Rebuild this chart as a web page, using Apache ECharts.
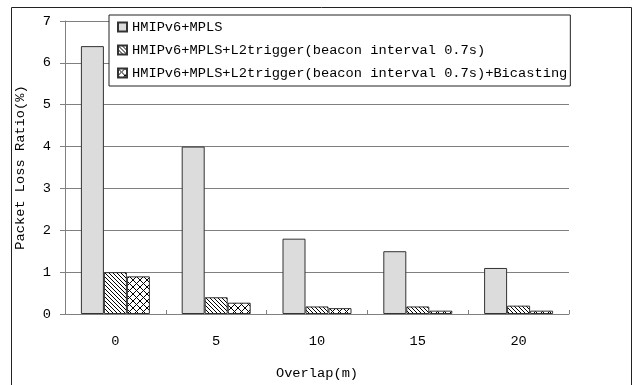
<!DOCTYPE html>
<html>
<head>
<meta charset="utf-8">
<script src="https://cdn.jsdelivr.net/npm/echarts@6/dist/echarts.min.js"></script>
<style>
  html, body { margin: 0; padding: 0; background: #fff; }
  #chart { width: 635px; height: 385px; }
</style>
</head>
<body>
<div id="chart"></div>
<script>
// Packet loss ratio versus cell overlap for three handover schemes
const categories = ['0', '5', '10', '15', '20'];
const seriesNames = [
  'HMIPv6+MPLS',
  'HMIPv6+MPLS+L2trigger(beacon interval 0.7s)',
  'HMIPv6+MPLS+L2trigger(beacon interval 0.7s)+Bicasting'
];
const baseLoss = [6.4, 4.0, 1.8, 1.5, 1.1];
const triggerLoss = [1.0, 0.4, 0.18, 0.18, 0.2];
const bicastLoss = [0.9, 0.27, 0.14, 0.08, 0.08];
const yTicks = [0, 1, 2, 3, 4, 5, 6, 7];

const FONT = '"Liberation Mono", "DejaVu Sans Mono", monospace';
const FS = 13.7;

// Diagonal hatch tile ("\\\\" lines)
function hatchTile() {
  const c = document.createElement('canvas');
  c.width = 4; c.height = 4;
  const g = c.getContext('2d');
  g.fillStyle = '#fff';
  g.fillRect(0, 0, 4, 4);
  g.fillStyle = '#000';
  for (let i = 0; i < 4; i++) g.fillRect(i, i, 1, 1);
  return c;
}
// Diagonal cross-hatch tile
function crossTile() {
  const n = 7;
  const c = document.createElement('canvas');
  c.width = n; c.height = n;
  const g = c.getContext('2d');
  g.fillStyle = '#fff';
  g.fillRect(0, 0, n, n);
  g.fillStyle = '#000';
  for (let i = 0; i < n; i++) {
    g.fillRect(i, i, 1, 1);
    g.fillRect(n - 1 - i, i, 1, 1);
  }
  return c;
}

const fills = [
  '#dcdcdc',
  { image: hatchTile(), repeat: 'repeat' },
  { image: crossTile(), repeat: 'repeat' }
];
const values = [baseLoss, triggerLoss, bicastLoss];

const chart = echarts.init(document.getElementById('chart'), null, { renderer: 'canvas' });
chart.setOption({
  animation: false,
  backgroundColor: '#fff',
  textStyle: { fontFamily: FONT, color: '#000' },
  graphic: [{
    type: 'rect',
    shape: { x: 11.5, y: 7.5, width: 620, height: 400 },
    style: { fill: 'none', stroke: '#222', lineWidth: 1 },
    silent: true,
    z: -1
  }],
  grid: { left: 65, right: 66, top: 21, bottom: 67 },
  legend: {
    orient: 'vertical',
    left: 109,
    top: 15,
    itemWidth: 9,
    itemHeight: 9,
    itemGap: 9,
    padding: [5, 3, 6, 8],
    borderColor: '#222',
    borderWidth: 1,
    backgroundColor: '#fff',
    icon: 'rect',
    textStyle: { fontFamily: FONT, fontSize: FS, color: '#000' },
    data: seriesNames
  },
  xAxis: {
    type: 'category',
    data: categories,
    name: 'Overlap(m)',
    nameLocation: 'middle',
    nameGap: 52,
    nameTextStyle: { fontFamily: FONT, fontSize: FS, color: '#000' },
    axisLine: { lineStyle: { color: '#808080', width: 1 } },
    axisTick: { show: true, inside: true, length: 4, lineStyle: { color: '#808080' } },
    axisLabel: { fontFamily: FONT, fontSize: FS, color: '#000', margin: 20 }
  },
  yAxis: {
    type: 'value',
    min: 0,
    max: 7,
    interval: 1,
    name: 'Packet Loss Ratio(%)',
    nameLocation: 'middle',
    nameGap: 38,
    nameTextStyle: { fontFamily: FONT, fontSize: FS, color: '#000' },
    axisLine: { show: true, lineStyle: { color: '#808080', width: 1 } },
    axisTick: { show: true, length: 5, lineStyle: { color: '#808080' } },
    axisLabel: {
      fontFamily: FONT, fontSize: FS, color: '#000', margin: 14,
      formatter: v => (yTicks.includes(v) ? String(v) : '')
    },
    splitLine: { show: true, lineStyle: { color: '#808080', width: 1 } }
  },
  series: seriesNames.map((name, i) => ({
    name,
    type: 'bar',
    data: values[i],
    barWidth: 23,
    barGap: '0%',
    itemStyle: { color: fills[i], borderColor: '#333', borderWidth: 1 }
  }))
});
</script>
</body>
</html>
